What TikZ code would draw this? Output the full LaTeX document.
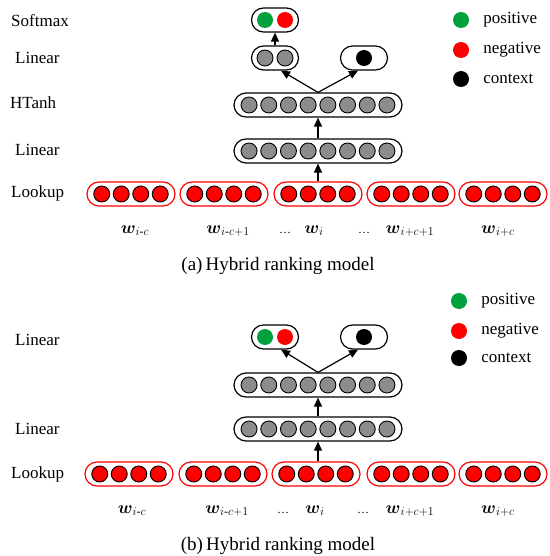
\documentclass[tikz,border=0pt]{standalone}
\usepackage{amsmath}
\usepackage{fontspec}
\setmainfont{Liberation Serif}
\usetikzlibrary{arrows.meta, positioning}
\definecolor{posgreen}{RGB}{0,160,60}
\definecolor{unitgray}{RGB}{140,140,140}
\tikzset{
    layerbox/.style={rectangle, rounded corners=12pt, draw, line width=1.2pt, minimum height=24pt, inner sep=0pt},
    lookbox/.style={layerbox, draw=red, minimum width=88pt},
    widebox/.style={layerbox, minimum width=168pt},
    smallbox/.style={layerbox, minimum width=47pt},
    dotunit/.style={circle, minimum size=16pt, inner sep=0pt},
    hidunit/.style={dotunit, draw, line width=0.9pt, fill=unitgray},
    embunit/.style={dotunit, draw, line width=0.9pt, fill=red},
    arrow/.style={-{Triangle[length=9pt, width=8pt]}, line width=1.2pt},
    lbl/.style={anchor=west, inner sep=1pt, font=\fontsize{17}{20}\selectfont},
    wlbl/.style={anchor=base, inner sep=0pt, font=\fontsize{17}{20}\selectfont},
    gap/.style={anchor=base, inner sep=0pt, font=\fontsize{12}{14}\selectfont},
    captext/.style={anchor=base, inner sep=0pt, font=\fontsize{19}{22}\selectfont}
}

\begin{document}
\begin{tikzpicture}[x=1pt, y=-1pt]
    \useasboundingbox (0,0) rectangle (549,556);

    % (a) hybrid ranking model with softmax
    \begin{scope}
        \foreach \x [count=\i] in {131,224,318,411,503} {
            \node[lookbox] (lookA\i) at (\x,194) {};
            \foreach \k in {-1.5,-0.5,0.5,1.5}
                \node[embunit] at ([xshift=\k*19.5pt]lookA\i.center) {};
        }
        \node[widebox] (hidA) at (318,151) {};
        \node[widebox] (tanhA) at (318,105) {};
        \foreach \k in {-3.5,-2.5,...,3.5} {
            \node[hidunit] at ([xshift=\k*19.7pt]hidA.center) {};
            \node[hidunit] at ([xshift=\k*19.7pt]tanhA.center) {};
        }
        \node[smallbox] (linA) at (275,58) {};
        \node[hidunit] at ([xshift=-10pt]linA.center) {};
        \node[hidunit] at ([xshift=10pt]linA.center) {};
        \node[smallbox] (ctxA) at (364,58) {};
        \node[dotunit, fill=black] at (ctxA.center) {};
        \node[smallbox] (softA) at (275,20) {};
        \node[dotunit, fill=posgreen] at ([xshift=-10pt]softA.center) {};
        \node[dotunit, fill=red] at ([xshift=10pt]softA.center) {};

        \draw[arrow] (lookA3.north) -- (hidA.south);
        \draw[arrow] (hidA.north) -- (tanhA.south);
        \draw[arrow] (tanhA.north) -- ([xshift=6pt]linA.south);
        \draw[arrow] (tanhA.north) -- ([xshift=-6pt]ctxA.south);
        \draw[arrow] (linA.north) -- (softA.south);

        % layer names
        \node[lbl] at (10,21) {Softmax};
        \node[lbl] at (14,58) {Linear};
        \node[lbl] at (9,103) {HTanh};
        \node[lbl] at (14,150) {Linear};
        \node[lbl] at (10,193) {Lookup};

        % legend
        \node[dotunit, fill=posgreen] (posA) at (461,20) {};
        \node[dotunit, fill=red] (negA) at (461,50) {};
        \node[dotunit, fill=black] (ctxdotA) at (461,79) {};
        \node[lbl, right=13pt of posA] {positive};
        \node[lbl, right=13pt of negA] {negative};
        \node[lbl, right=13pt of ctxdotA] {context};

        % words
        \node[wlbl] at (135,233) {$\boldsymbol{w}_{i\text{-}c}$};
        \node[wlbl] at (228,233) {$\boldsymbol{w}_{i\text{-}c+1}$};
        \node[gap] at (285,233) {\dots};
        \node[wlbl] at (314,233) {$\boldsymbol{w}_{i}$};
        \node[gap] at (364,233) {\dots};
        \node[wlbl] at (410,233) {$\boldsymbol{w}_{i+c+1}$};
        \node[wlbl] at (498,233) {$\boldsymbol{w}_{i+c}$};
        \node[captext] at (278,270) {(a)\,Hybrid ranking model};
    \end{scope}

    % (b) hybrid ranking model without softmax
    \begin{scope}[shift={(0,280)}]
        \foreach \x [count=\i] in {129,223,316,411,503} {
            \node[lookbox] (lookB\i) at (\x,194) {};
            \foreach \k in {-1.5,-0.5,0.5,1.5}
                \node[embunit] at ([xshift=\k*19.5pt]lookB\i.center) {};
        }
        \node[widebox] (hidB) at (318,149) {};
        \node[widebox] (tanhB) at (318,105) {};
        \foreach \k in {-3.5,-2.5,...,3.5} {
            \node[hidunit] at ([xshift=\k*19.7pt]hidB.center) {};
            \node[hidunit] at ([xshift=\k*19.7pt]tanhB.center) {};
        }
        \node[smallbox] (linB) at (275,57) {};
        \node[dotunit, fill=posgreen] at ([xshift=-10pt]linB.center) {};
        \node[dotunit, fill=red] at ([xshift=10pt]linB.center) {};
        \node[smallbox] (ctxB) at (364,57) {};
        \node[dotunit, fill=black] at (ctxB.center) {};

        \draw[arrow] (lookB3.north -| hidB.south) -- (hidB.south);
        \draw[arrow] (hidB.north) -- (tanhB.south);
        \draw[arrow] (tanhB.north) -- ([xshift=6pt]linB.south);
        \draw[arrow] (tanhB.north) -- ([xshift=-6pt]ctxB.south);

        % layer names
        \node[lbl] at (14,60) {Linear};
        \node[lbl] at (14,149) {Linear};
        \node[lbl] at (10,194) {Lookup};

        % legend
        \node[dotunit, fill=posgreen] (posB) at (459,21) {};
        \node[dotunit, fill=red] (negB) at (459,51) {};
        \node[dotunit, fill=black] (ctxdotB) at (459,78) {};
        \node[lbl, right=13pt of posB] {positive};
        \node[lbl, right=13pt of negB] {negative};
        \node[lbl, right=13pt of ctxdotB] {context};

        % words
        \node[wlbl] at (132,233) {$\boldsymbol{w}_{i\text{-}c}$};
        \node[wlbl] at (227,233) {$\boldsymbol{w}_{i\text{-}c+1}$};
        \node[gap] at (283,233) {\dots};
        \node[wlbl] at (315,233) {$\boldsymbol{w}_{i}$};
        \node[gap] at (363,233) {\dots};
        \node[wlbl] at (410,233) {$\boldsymbol{w}_{i+c+1}$};
        \node[wlbl] at (498,233) {$\boldsymbol{w}_{i+c}$};
        \node[captext] at (278,270) {(b)\,Hybrid ranking model};
    \end{scope}
\end{tikzpicture}
\end{document}
